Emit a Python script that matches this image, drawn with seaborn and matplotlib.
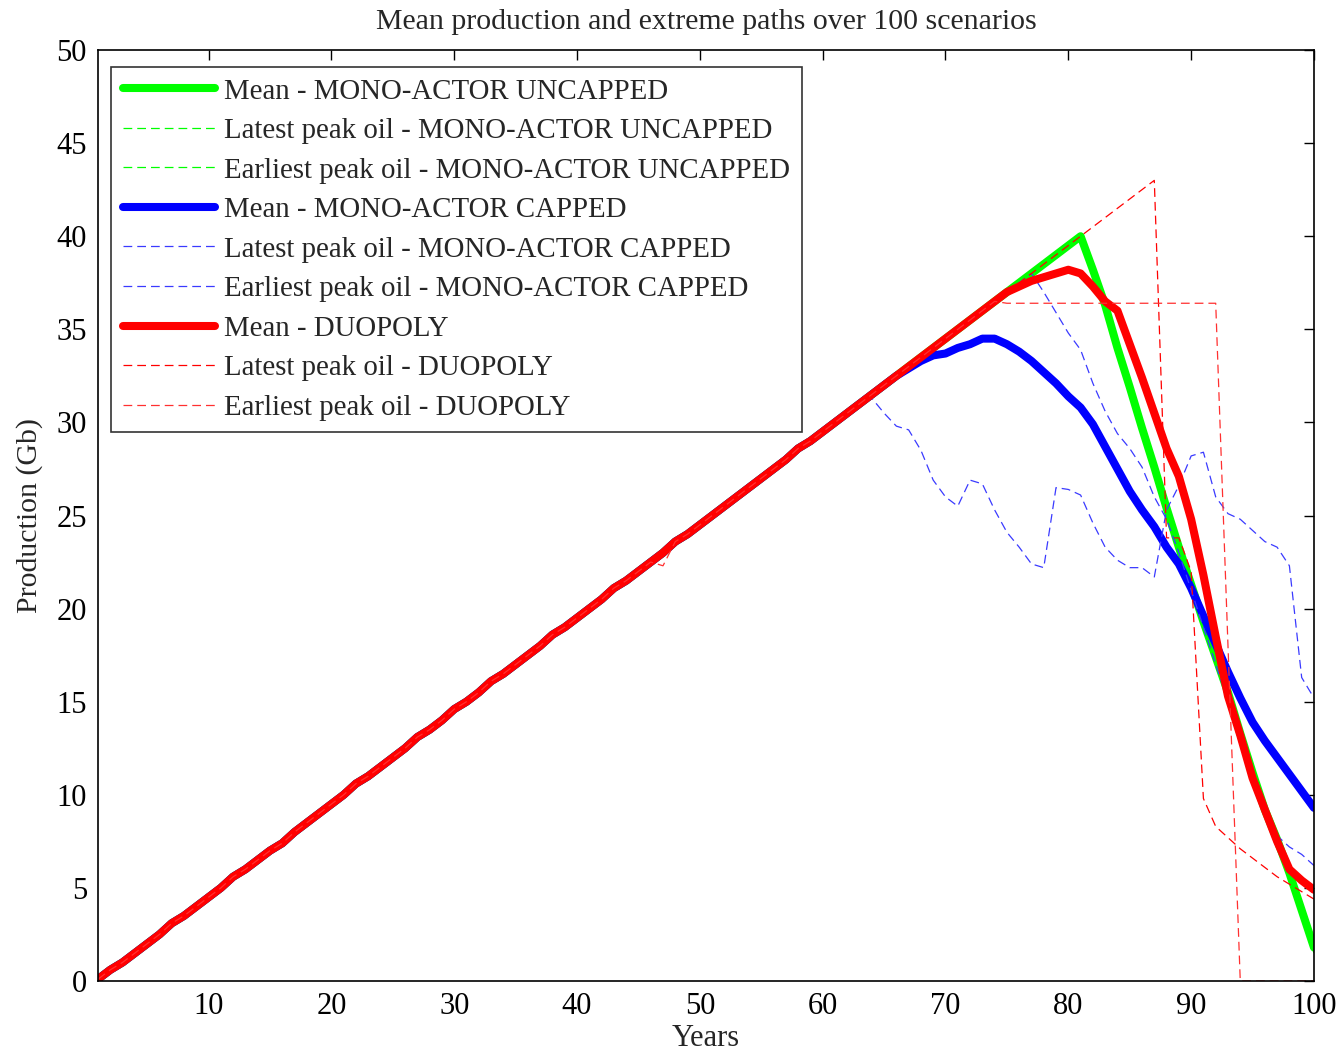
"""Mean production and extreme paths over 100 scenarios."""
import matplotlib
matplotlib.use("Agg")
import matplotlib.pyplot as plt
import numpy as np
import seaborn as sns

years = list(range(1, 101))

# common growth phase, years 1..87
ramp = [0.1, 0.6, 1.0, 1.5, 2.0, 2.5, 3.1, 3.5, 4.0, 4.5,
        5.0, 5.6, 6.0, 6.5, 7.0, 7.4, 8.0, 8.5, 9.0, 9.5,
        10.0, 10.6, 11.0, 11.5, 12.0, 12.5, 13.1, 13.5, 14.0, 14.6,
        15.0, 15.5, 16.1, 16.5, 17.0, 17.5, 18.0, 18.6, 19.0, 19.5,
        20.0, 20.5, 21.1, 21.5, 22.0, 22.5, 23.0, 23.6, 24.0, 24.5,
        25.0, 25.5, 26.0, 26.5, 27.0, 27.5, 28.0, 28.6, 29.0, 29.5,
        30.0, 30.5, 31.0, 31.5, 32.0, 32.5, 33.0, 33.5, 34.0, 34.5,
        35.0, 35.5, 36.0, 36.5, 37.0, 37.5, 38.0, 38.5, 39.0, 39.5,
        40.0, 40.5, 41.0, 41.5, 42.0, 42.5, 43.0]

# tails after each path leaves the common ramp
uncapped_mean_tail = [38.2, 36.3, 34.0, 31.9, 29.7, 27.6, 25.4, 23.3, 21.3, 19.3,
                      17.4, 15.5, 13.3, 11.2, 9.2, 7.6, 5.8, 3.8, 1.8]          # from year 82
uncapped_latest_tail = [38.2, 36.3, 34.0, 31.9, 29.7, 27.6, 25.4, 23.3, 21.3, 19.3,
                        17.4, 15.5, 13.3, 11.2, 9.2, 7.5, 5.6, 3.6, 1.6]        # from year 82
uncapped_earliest_tail = [38.2, 36.3, 34.0, 31.9, 29.7, 27.6, 25.4, 23.3, 21.3, 19.3,
                          17.4, 15.5, 13.3, 11.2, 9.2, 7.6, 5.7, 3.7, 1.5]      # from year 82

capped_mean_tail = [32.5, 32.9, 33.3, 33.6, 33.7, 34.0, 34.2, 34.5, 34.5, 34.2,
                    33.8, 33.3, 32.7, 32.1, 31.4, 30.8, 29.9, 28.7, 27.5, 26.3,
                    25.3, 24.4, 23.3, 22.4, 21.1, 19.6, 18.1, 16.6, 15.2, 13.9,
                    12.9, 12.0, 11.1, 10.2, 9.3]                                # from year 66
capped_latest_tail = [37.0, 35.9, 34.8, 33.9, 32.1, 30.6, 29.4, 28.6, 27.6, 26.0,
                      24.8, 23.0, 21.0, 19.0, 17.0, 15.0, 13.0, 11.2, 9.5, 7.8,
                      7.2, 6.8, 6.2]                                            # from year 78
capped_earliest_tail = [31.3, 30.5, 29.8, 29.6, 28.5, 26.9, 26.0, 25.5, 26.9, 26.7,
                        25.3, 24.1, 23.3, 22.4, 22.2, 26.5, 26.4, 26.1, 24.6, 23.3,
                        22.6, 22.2, 22.2, 21.7, 25.3, 26.6, 28.2, 28.4, 26.0, 25.1,
                        24.8, 24.2, 23.6, 23.3, 22.3, 16.3, 15.2]               # from year 64

duopoly_mean_tail = [37.3, 37.6, 37.8, 38.0, 38.2, 38.0, 37.3, 36.5, 36.0, 34.2,
                     32.4, 30.5, 28.6, 27.1, 24.8, 21.8, 18.5, 15.3, 13.2, 10.9,
                     9.2, 7.5, 6.0, 5.4, 4.9]                                   # from year 76
duopoly_latest_tail = [23.8, 23.8, 22.0, 9.8, 8.3, 7.7, 7.1, 6.6, 6.1, 5.6,
                       5.2, 4.8, 4.4]                                           # from year 88
duopoly_earliest_tail = [36.4, 36.4, 36.4, 36.4, 36.4, 36.4, 36.4, 36.4, 36.4, 36.4,
                         36.4, 36.4, 36.4, 36.4, 36.4, 36.4, 36.4, 36.4, 18.0, 0.0,
                         0.0, 0.0, 0.0, 0.0, 0.0, 0.0]                          # from year 75

uncapped_mean = ramp[:81] + uncapped_mean_tail
uncapped_latest = ramp[:81] + uncapped_latest_tail
uncapped_earliest = ramp[:81] + uncapped_earliest_tail
capped_mean = ramp[:65] + capped_mean_tail
capped_latest = ramp[:77] + capped_latest_tail
capped_earliest = ramp[:63] + capped_earliest_tail
duopoly_mean = ramp[:75] + duopoly_mean_tail
duopoly_latest = ramp[:87] + duopoly_latest_tail
duopoly_earliest = ramp[:46] + [22.3] + ramp[47:74] + duopoly_earliest_tail

sns.set_style("white")
plt.rcParams["font.family"] = ["Liberation Serif", "DejaVu Serif"]
plt.rcParams["font.size"] = 20

GREEN, BLUE, RED = "#00ff00", "#0000ff", "#ff0000"
DASH = (7, 4)

series = [
    (uncapped_mean, GREEN, 5.8, None, "Mean - MONO-ACTOR UNCAPPED"),
    (uncapped_latest, GREEN, 0.9, DASH, "Latest peak oil - MONO-ACTOR UNCAPPED"),
    (uncapped_earliest, GREEN, 0.9, DASH, "Earliest peak oil - MONO-ACTOR UNCAPPED"),
    (capped_mean, BLUE, 5.8, None, "Mean - MONO-ACTOR CAPPED"),
    (capped_latest, "#3a3aff", 0.9, DASH, "Latest peak oil - MONO-ACTOR CAPPED"),
    (capped_earliest, "#3a3aff", 0.9, DASH, "Earliest peak oil - MONO-ACTOR CAPPED"),
    (duopoly_mean, RED, 5.8, None, "Mean - DUOPOLY"),
    (duopoly_latest, RED, 0.9, DASH, "Latest peak oil - DUOPOLY"),
    (duopoly_earliest, "#ff3030", 0.9, DASH, "Earliest peak oil - DUOPOLY"),
]

fig = plt.figure(figsize=(13.39, 10.51), dpi=100)
ax = fig.add_axes([0.0732, 0.0666, 0.9081, 0.8858])

for vals, color, lw, dash, label in series:
    kw = {"dashes": dash} if dash else {}
    sns.lineplot(x=years, y=vals, color=color, linewidth=lw, label=label,
                 ax=ax, solid_capstyle="round", **kw)
    if dash:
        ax.lines[-1].set_linestyle((0, dash))

ax.set_xlim(1, 100)
ax.set_ylim(0, 50)
ax.set_xticks(np.arange(10, 101, 10))
ax.set_yticks(np.arange(0, 51, 5))
ax.tick_params(direction="in", length=7, width=1, top=True, right=True,
               labelsize=22, colors="black", pad=8)
for sp in ax.spines.values():
    sp.set_color("black")
    sp.set_linewidth(1.2)

ax.set_title("Mean production and extreme paths over 100 scenarios",
             fontsize=21.5, pad=15)
ax.set_xlabel("Years", fontsize=22, labelpad=2)
ax.set_ylabel("Production (Gb)", fontsize=21.5, labelpad=10)

leg = ax.legend(loc="upper left", bbox_to_anchor=(0.011, 0.982), fontsize=20.8,
                frameon=True, fancybox=False, handlelength=3.2,
                labelspacing=0.46, borderpad=0.4, handletextpad=0.3,
                borderaxespad=0)
leg.get_frame().set_edgecolor("black")
leg.get_frame().set_linewidth(1.2)

fig.savefig("out.png", dpi=100)
